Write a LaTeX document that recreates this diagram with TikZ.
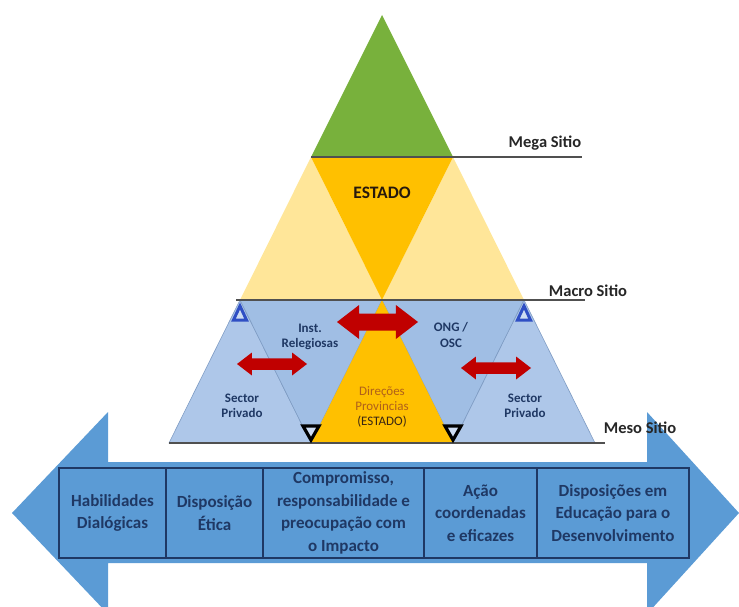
\documentclass[tikz,border=0pt]{standalone}
\usepackage{fontspec}
\setmainfont{Carlito}
\usepackage{tikz}
\usepackage{xcolor}
\usetikzlibrary{positioning}
\definecolor{megagreen}{HTML}{78B13C}
\definecolor{estadoorange}{HTML}{FFC000}
\definecolor{macroyellow}{HTML}{FFE699}
\definecolor{mesoblue}{HTML}{AEC7E9}
\definecolor{mesoblueinv}{HTML}{A0BEE4}
\definecolor{mesoedge}{HTML}{7F9CC4}
\definecolor{bandblue}{HTML}{5B9BD5}
\definecolor{navy}{HTML}{1F3864}
\definecolor{arrowred}{HTML}{C00000}
\definecolor{levelgray}{HTML}{505050}
\definecolor{markblue}{HTML}{2F4FC4}
\definecolor{brownish}{HTML}{B0601A}
\tikzstyle{level}=[draw=levelgray,line width=1.2pt]
\tikzstyle{levellabel}=[font=\fontsize{16.5}{19}\selectfont\bfseries,text=black!85]
\tikzstyle{mesolabel}=[font=\fontsize{13}{15.5}\selectfont\bfseries,text=navy,align=center]
\tikzstyle{mesotri}=[draw=mesoedge,line width=0.6pt]
\tikzstyle{cell}=[draw=navy,line width=1.3pt,fill=bandblue,minimum height=90pt,
  inner sep=0pt,outer sep=0pt,align=center,text=navy,
  font=\fontsize{17}{22.5}\selectfont\bfseries]
\newcommand\redarrow[4]{% left x, right x, middle y, half height of the head
  \fill[arrowred] (#1,#3) -- ({#1+1.3*#4},{#3-#4}) -- ({#1+1.3*#4},{#3-#4/2})
    -- ({#2-1.3*#4},{#3-#4/2}) -- ({#2-1.3*#4},{#3-#4}) -- (#2,#3)
    -- ({#2-1.3*#4},{#3+#4}) -- ({#2-1.3*#4},{#3+#4/2})
    -- ({#1+1.3*#4},{#3+#4/2}) -- ({#1+1.3*#4},{#3+#4}) -- cycle;}
\newcommand\upmark[2]{%
  \draw[markblue,line width=3pt,fill=mesoblue!60!white,line join=miter]
    (#1,#2) -- ++(-6.5,14) -- ++(13,0) -- cycle;}
\newcommand\downmark[2]{%
  \draw[black,line width=3.2pt,fill=mesoblue!60!white,line join=miter]
    (#1,#2) -- ++(-8,-14) -- ++(16,0) -- cycle;}

\begin{document}
\begin{tikzpicture}[x=1pt,y=-1pt]
  \useasboundingbox (0,0) rectangle (739,607);
  \clip (0,0) rectangle (739,607);

  % band arrow
  \fill[bandblue] (12,513) -- (108,412) -- (108,462) -- (647,462) -- (647,412)
    -- (739,513) -- (647,614) -- (647,563) -- (108,563) -- (108,614) -- cycle;

  % macro and mega
  \fill[macroyellow] (240,300) -- (311,157) -- (382,300) -- cycle;
  \fill[macroyellow] (382,300) -- (453,157) -- (524,300) -- cycle;
  \fill[estadoorange] (311,157) -- (453,157) -- (382,300) -- cycle;
  \fill[megagreen] (382,15) -- (311,157) -- (453,157) -- cycle;

  % meso
  \filldraw[mesotri,fill=mesoblue] (169,443) -- (240,300) -- (311,443) -- cycle;
  \filldraw[mesotri,fill=mesoblueinv] (240,300) -- (382,300) -- (311,443) -- cycle;
  \filldraw[mesotri,fill=mesoblueinv] (382,300) -- (524,300) -- (453,443) -- cycle;
  \filldraw[mesotri,fill=mesoblue] (453,443) -- (524,300) -- (595,443) -- cycle;
  \fill[estadoorange] (311,443) -- (382,300) -- (453,443) -- cycle;

  \draw[level] (311,157) -- (582,157);
  \draw[level] (236,300) -- (585,300);
  \draw[level] (169,443) -- (605,443);

  \upmark{240}{306}
  \upmark{524}{306}
  \downmark{311}{440}
  \downmark{453}{440}

  \redarrow{337}{418}{322}{17}
  \redarrow{237}{307}{364}{11.5}
  \redarrow{461}{531}{368}{11.5}

  \node[levellabel] (MG) at (545,143) {Mega Sitio};
  \node[levellabel] (MC) at (588,291) {Macro Sitio};
  \node[levellabel] (MS) at (640,428) {Meso Sitio};
  \node[font=\fontsize{17.5}{20}\selectfont\bfseries,text=black!80!brown] (E) at (382,193) {ESTADO};

  \node[mesolabel] (IR) at (310,337) {Inst.\\Relegiosas};
  \node[mesolabel] (ONG) at (451,335) {ONG /\\OSC};
  \node[mesolabel] (SPL) at (242,406) {Sector\\Privado};
  \node[mesolabel] (SPR) at (525,406) {Sector\\Privado};
  \node[align=center,font=\fontsize{13}{15}\selectfont,text=brownish] (DP) at (382,407)
    {Direções\\Provincias\\\textcolor{black!70!brown}{(ESTADO)}};

  % dispositions
  \node[cell,minimum width=107pt] (C1) at (112.5,513) {Habilidades\\Dialógicas};
  \node[cell,minimum width=97pt,right=0pt of C1] (C2) {Disposição\\Ética};
  \node[cell,minimum width=161pt,right=0pt of C2] (C3)
    {Compromisso,\\responsabilidade e\\preocupação com\\o Impacto};
  \node[cell,minimum width=113pt,right=0pt of C3] (C4) {Ação\\coordenadas\\e eficazes};
  \node[cell,minimum width=152pt,right=0pt of C4] (C5)
    {Disposições em\\Educação para o\\Desenvolvimento};
\end{tikzpicture}
\end{document}
